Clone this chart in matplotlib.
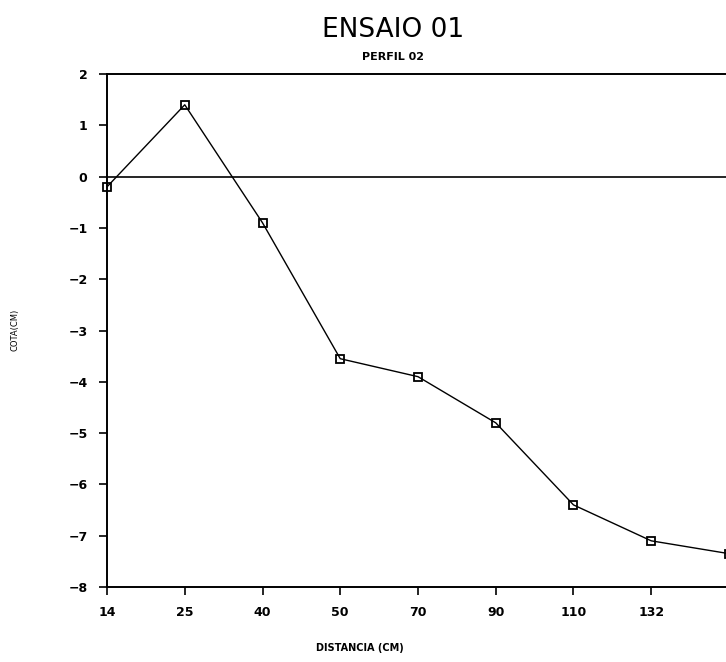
import numpy as np
import matplotlib.pyplot as plt

# dados do ensaio
distancias = ['14', '25', '40', '50', '70', '90', '110', '132', '150']
cotas = [-0.2, 1.4, -0.9, -3.55, -3.9, -4.8, -6.4, -7.1, -7.35]
yticks = [2, 1, 0, -1, -2, -3, -4, -5, -6, -7, -8]

fig = plt.figure(figsize=(7.26, 6.62), dpi=100)
ax = fig.add_axes([107/726, 75/662, 622/726, 513/662])

x = np.arange(len(distancias))
ax.plot(x, cotas, color='black', lw=1.0, marker='s', ms=6,
        mfc='none', mec='black', mew=1.3, clip_on=False, zorder=3)
ax.axhline(0, color='black', lw=1.2)

ax.set_xlim(0, len(distancias) - 1)
ax.set_ylim(-8, 2)
ax.set_xticks(x[:-1])
ax.set_xticklabels(distancias[:-1], fontsize=9, fontweight='bold')
ax.set_yticks(yticks)
ax.set_yticklabels([str(v).replace('-', '\u2212') for v in yticks], fontsize=9, fontweight='bold')
ax.tick_params(direction='out', length=6, width=1.2, color='black', pad=8)

for s in ['left', 'top', 'bottom']:
    ax.spines[s].set_linewidth(1.4)
ax.spines['right'].set_visible(False)

fig.text(393/726, 1 - 30/662, 'ENSAIO 01', ha='center', va='center', fontsize=19)
fig.text(393/726, 1 - 57/662, 'PERFIL 02', ha='center', va='center', fontsize=8, fontweight='bold')
fig.text(360/726, 1 - 648/662, 'DISTANCIA (CM)', ha='center', va='center', fontsize=7, fontweight='bold')
fig.text(15/726, 1 - 330/662, 'COTA(CM)', ha='center', va='center', fontsize=6, rotation=90)

fig.savefig('out.png', dpi=100)
